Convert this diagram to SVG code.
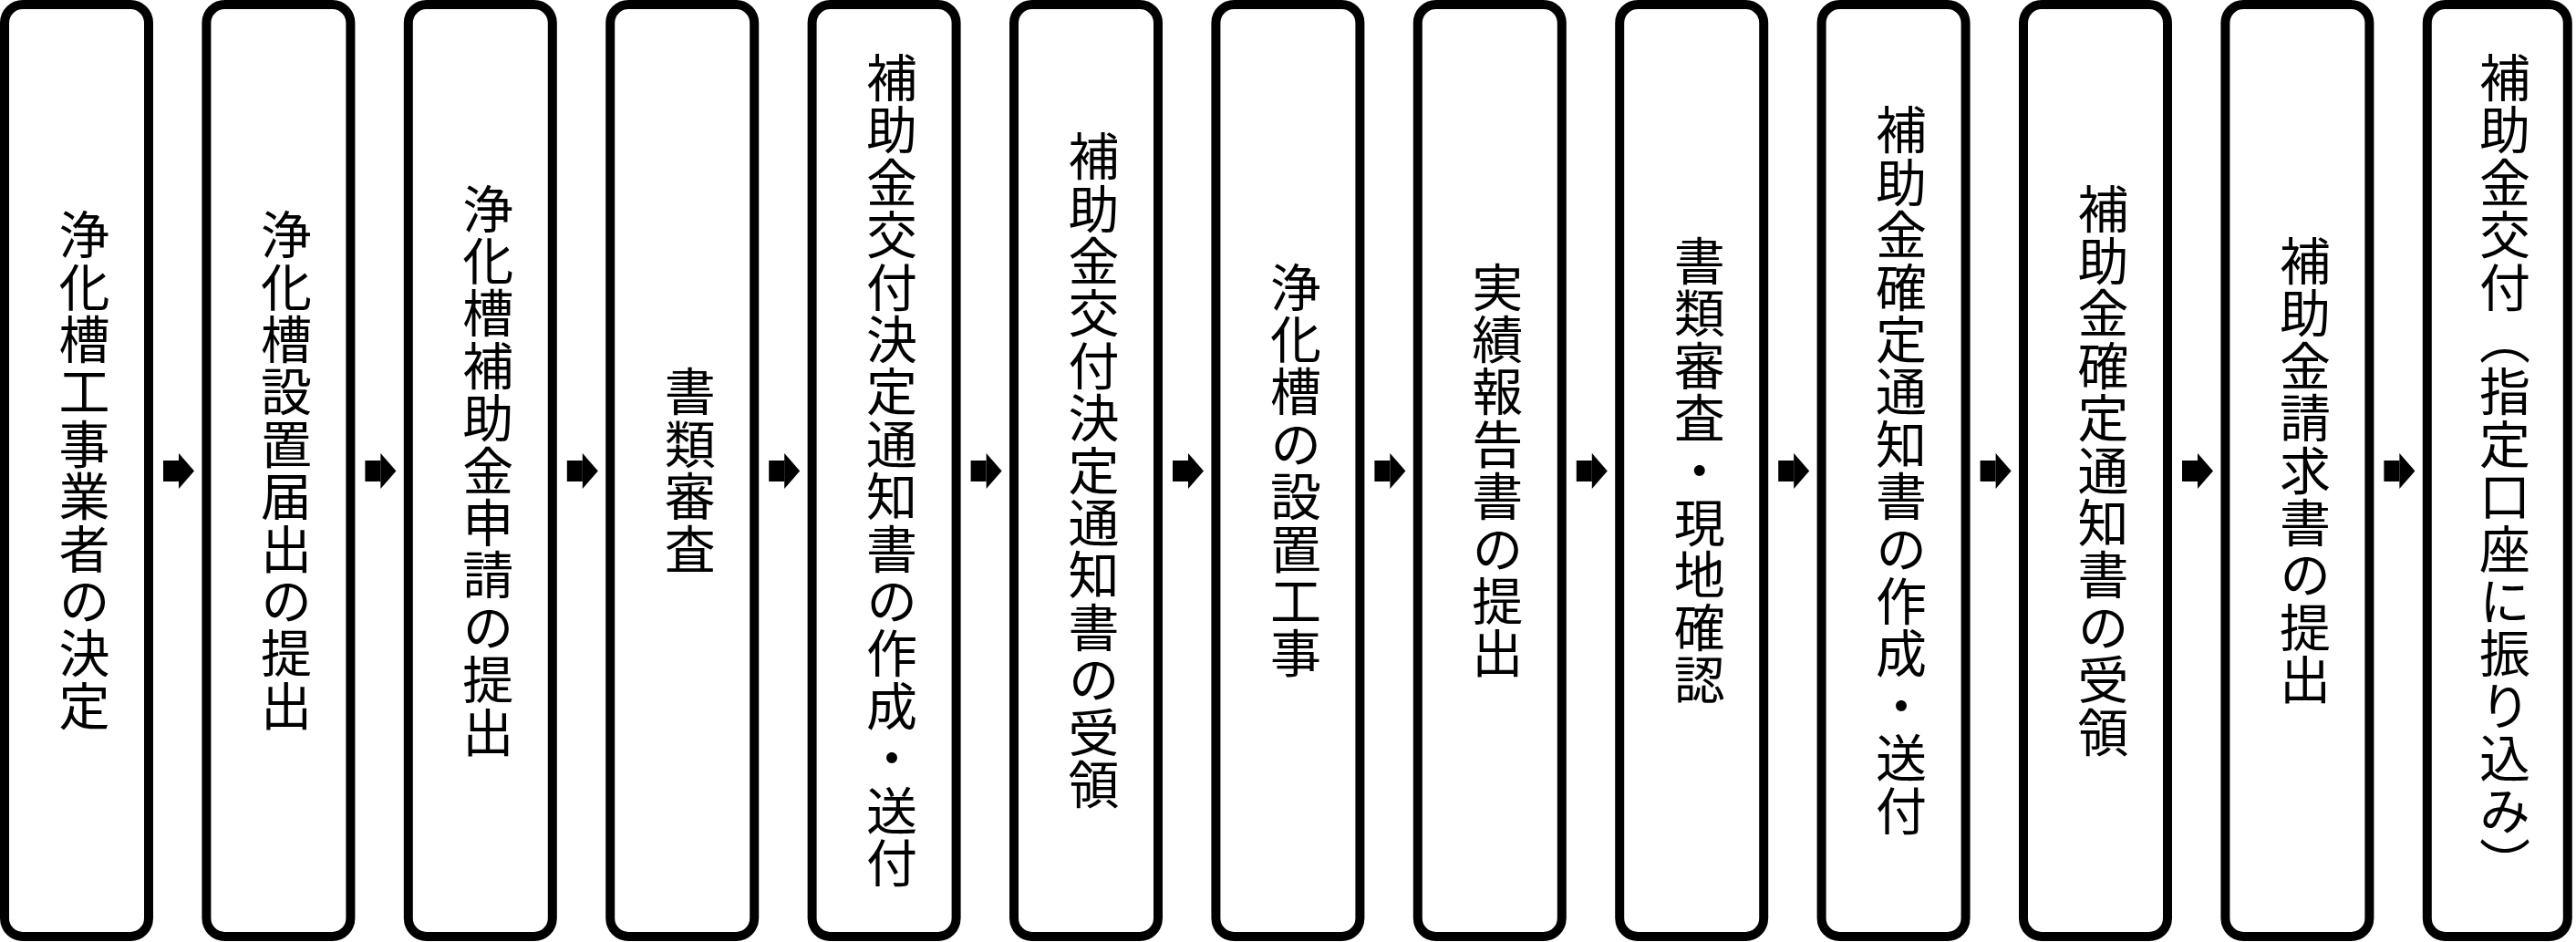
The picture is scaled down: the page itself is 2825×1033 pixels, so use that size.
<svg xmlns="http://www.w3.org/2000/svg" width="2825" height="1033" viewBox="0 0 2825 1033">
<style>
.box{fill:#fff;stroke:#000;stroke-width:10}
.lbl{font-family:"Noto Sans CJK JP","Noto Sans CJK SC",sans-serif;font-size:56px;letter-spacing:1.4px;fill:#000;writing-mode:vertical-rl;text-anchor:middle}
.conn{stroke:#000;stroke-width:23;fill:none;marker-end:url(#ah)}
</style>
<defs>
<marker id="ah" markerUnits="userSpaceOnUse" markerWidth="17" markerHeight="39" refX="0" refY="19.5" orient="auto" overflow="visible">
<path d="M0,0 L17,19.5 L0,39 Z" fill="#000"/>
</marker>
</defs>
<rect width="2825" height="1033" fill="#fff"/>
<g id="n1"><rect class="box" x="5" y="5" width="158" height="1022" rx="20"/><text class="lbl" x="92.5" y="516">浄化槽工事業者の決定</text></g>
<g id="n2"><rect class="box" x="226.4" y="5" width="158" height="1022" rx="20"/><text class="lbl" x="313.9" y="516">浄化槽設置届出の提出</text></g>
<g id="n3"><rect class="box" x="447.8" y="5" width="158" height="1022" rx="20"/><text class="lbl" x="535.3" y="516">浄化槽補助金申請の提出</text></g>
<g id="n4"><rect class="box" x="669.2" y="5" width="158" height="1022" rx="20"/><text class="lbl" x="756.7" y="516">書類審査</text></g>
<g id="n5"><rect class="box" x="890.6" y="5" width="158" height="1022" rx="20"/><text class="lbl" x="978.1" y="516">補助金交付決定通知書の作成・送付</text></g>
<g id="n6"><rect class="box" x="1112" y="5" width="158" height="1022" rx="20"/><text class="lbl" x="1199.5" y="516">補助金交付決定通知書の受領</text></g>
<g id="n7"><rect class="box" x="1333.4" y="5" width="158" height="1022" rx="20"/><text class="lbl" x="1420.9" y="516">浄化槽の設置工事</text></g>
<g id="n8"><rect class="box" x="1554.8" y="5" width="158" height="1022" rx="20"/><text class="lbl" x="1642.3" y="516">実績報告書の提出</text></g>
<g id="n9"><rect class="box" x="1776.2" y="5" width="158" height="1022" rx="20"/><text class="lbl" x="1863.7" y="516">書類審査・現地確認</text></g>
<g id="n10"><rect class="box" x="1997.6" y="5" width="158" height="1022" rx="20"/><text class="lbl" x="2085.1" y="516">補助金確定通知書の作成・送付</text></g>
<g id="n11"><rect class="box" x="2219" y="5" width="158" height="1022" rx="20"/><text class="lbl" x="2306.5" y="516">補助金確定通知書の受領</text></g>
<g id="n12"><rect class="box" x="2440.4" y="5" width="158" height="1022" rx="20"/><text class="lbl" x="2527.9" y="516">補助金請求書の提出</text></g>
<g id="n13"><rect class="box" x="2661.8" y="5" width="154" height="1022" rx="20"/><text class="lbl" x="2747" y="516">補助金交付（指定口座に振り込み）</text></g>
<g id="connectors">
<path class="conn" d="M179,516.5 H196"/>
<path class="conn" d="M400.4,516.5 H417.4"/>
<path class="conn" d="M621.8,516.5 H638.8"/>
<path class="conn" d="M843.2,516.5 H860.2"/>
<path class="conn" d="M1064.6,516.5 H1081.6"/>
<path class="conn" d="M1286,516.5 H1303"/>
<path class="conn" d="M1507.4,516.5 H1524.4"/>
<path class="conn" d="M1728.8,516.5 H1745.8"/>
<path class="conn" d="M1950.2,516.5 H1967.2"/>
<path class="conn" d="M2171.6,516.5 H2188.6"/>
<path class="conn" d="M2393,516.5 H2410"/>
<path class="conn" d="M2614.4,516.5 H2631.4"/>
</g>
</svg>
